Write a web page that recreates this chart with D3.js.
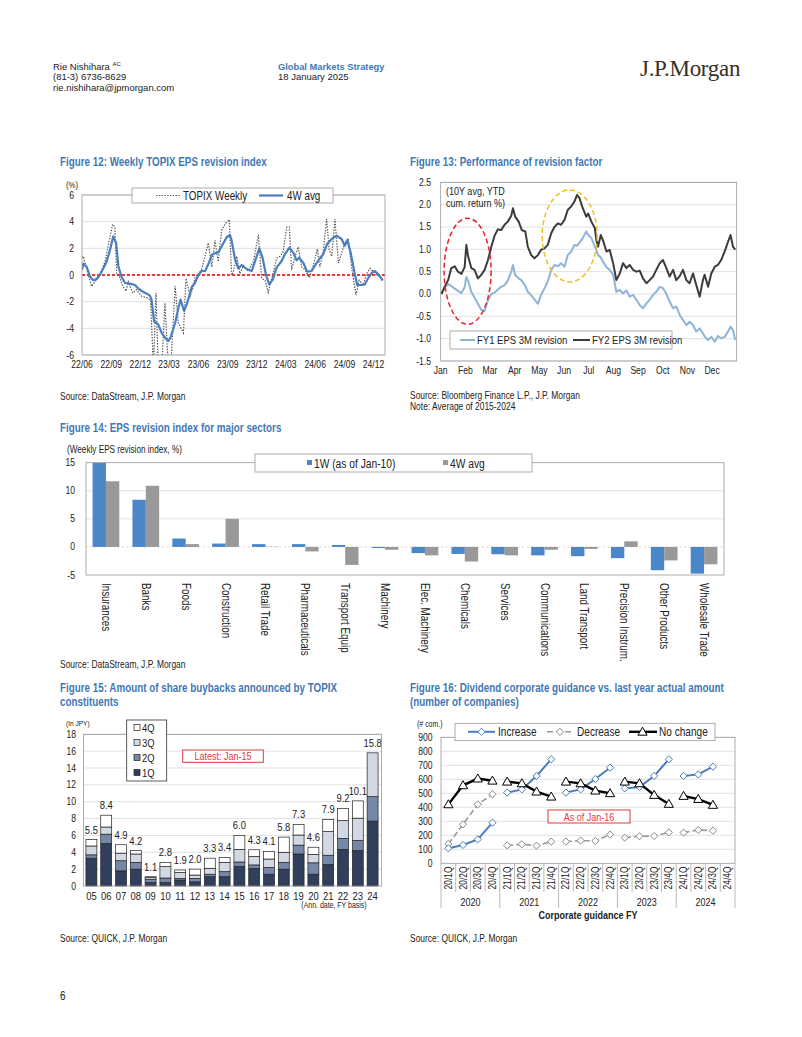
<!DOCTYPE html>
<html><head><meta charset="utf-8">
<script src="https://cdnjs.cloudflare.com/ajax/libs/d3/7.8.5/d3.min.js"></script>
<style>
body{margin:0;background:#fff}
svg{display:block}
</style>
</head><body>
<svg id="c" width="802" height="1037"></svg>
<script>
// ---------------- DATA ----------------
// Figure 12 (days since 2022-06-01)
const f12TickLabels = ["22/06","22/09","22/12","23/03","23/06","23/09","23/12","24/03","24/06","24/09","24/12"];
const f12YTicks = [-6,-4,-2,0,2,4,6];
const f12AvgDays = [0,4,15,25,35,46,56,67,77,88,
  98,107,114,124,135,150,166,176,187,203,
  213,218,226,239,250,260,271,278,292,302,
  309,320,330,344,354,365,375,386,396,407,
  417,427,438,454,464,469,480,490,501,516,
  532,542,556,566,577,587,598,610,626,636,
  650,662,673,681,694,706,720,730,744,756,
  769,783,798,814,824,832,842,856,863,877,
  887,897,908,918,929,943];
const f12AvgVals = [0.4,0.85,0.6,-0.1,-0.4,-0.3,0.0,0.5,1.0,1.9,
  2.9,2.4,0.65,-0.15,-0.6,-0.65,-0.75,-1.0,-1.2,-1.4,
  -1.55,-1.85,-3.5,-3.7,-4.35,-4.7,-4.95,-4.65,-3.6,-2.5,
  -1.85,-2.7,-2.1,-0.9,-0.6,0.0,0.3,0.3,0.8,1.5,
  1.65,1.7,2.15,2.85,3.0,2.6,1.15,0.5,0.75,0.45,
  0.3,1.0,2.0,1.3,0.0,-0.7,-0.35,0.55,1.05,1.55,
  2.05,1.7,1.1,1.3,0.9,0.25,0.3,0.7,1.2,1.55,
  2.35,2.7,2.95,2.7,2.2,2.6,1.7,0.0,-0.75,-0.75,
  -0.7,-0.25,0.15,0.3,0.05,-0.4];
const f12WkDays = [0,4,15,30,41,56,72,86,96,103,
  109,117,128,138,145,159,171,187,203,215,
  224,232,239,250,260,271,278,292,302,318,
  326,339,349,354,365,375,396,407,417,427,
  438,451,462,469,474,485,495,506,521,537,
  553,563,574,584,598,610,621,631,642,650,
  657,668,678,689,699,713,725,738,746,756,
  767,775,783,793,804,814,824,835,845,859,
  869,882,892,903,913,924,934,943];
const f12WkVals = [1.3,1.4,0.4,-0.85,-0.5,0.0,1.0,2.65,3.8,3.6,
  0.0,-0.1,-0.85,-1.2,-0.5,-1.35,-1.1,-1.6,-1.7,-1.9,
  -7.0,-1.35,-7.0,-7.0,-2.1,-7.0,-7.0,-0.85,-3.6,-4.35,
  -0.25,-1.6,-0.9,-0.2,0.1,0.4,2.4,0.6,2.6,1.0,
  3.4,3.9,4.15,0.0,0.2,1.4,0.1,0.7,0.3,1.0,
  3.0,-0.25,-0.4,-1.3,0.0,1.25,1.4,1.75,3.6,3.6,
  0.4,1.4,2.1,0.6,0.4,-0.2,0.7,1.95,0.6,1.75,
  4.2,1.9,1.4,4.2,0.9,1.65,2.4,2.75,0.65,-1.5,
  -0.4,-0.75,0.1,0.5,0.25,0.0,-0.1,-0.5];

// Figure 13 (x = position in months from Jan start)
const f13MonthLabels = ["Jan","Feb","Mar","Apr","May","Jun","Jul","Aug","Sep","Oct","Nov","Dec"];
const f13YTicks = [-1.5,-1.0,-0.5,0.0,0.5,1.0,1.5,2.0,2.5];
const f13Pos = [0.03,0.16,0.30,0.43,0.57,0.70,0.84,0.97,1.04,1.11,
  1.24,1.37,1.51,1.65,1.78,1.91,2.05,2.18,2.32,2.45,
  2.59,2.72,2.86,2.93,3.02,3.16,3.29,3.43,3.53,3.67,
  3.80,3.94,4.07,4.21,4.34,4.48,4.61,4.75,4.88,5.02,
  5.15,5.29,5.42,5.53,5.63,5.76,5.90,5.98,6.11,6.25,
  6.31,6.38,6.49,6.58,6.72,6.85,6.99,7.12,7.26,7.39,
  7.53,7.66,7.80,7.93,8.07,8.20,8.34,8.47,8.61,8.74,
  8.88,9.01,9.15,9.28,9.42,9.55,9.69,9.82,9.96,10.09,
  10.23,10.36,10.50,10.63,10.70,10.84,10.97,11.11,11.24,11.37,
  11.51,11.65,11.75,11.85,11.94];
const f13FY2 = [0.00,0.16,0.31,0.58,0.62,0.50,0.45,0.60,1.10,0.85,
  0.58,0.54,0.35,0.43,0.54,0.75,1.05,1.30,1.45,1.43,
  1.55,1.62,1.75,1.92,1.73,1.62,1.43,1.40,1.06,0.87,
  0.80,0.87,0.99,1.02,1.10,1.36,1.50,1.58,1.55,1.66,
  1.88,1.96,2.07,2.22,2.14,1.92,1.73,1.80,1.62,1.47,
  1.20,1.06,1.32,1.20,0.95,0.99,0.69,0.31,0.46,0.69,
  0.58,0.65,0.54,0.50,0.52,0.35,0.24,0.31,0.39,0.54,
  0.69,0.76,0.58,0.39,0.54,0.31,0.40,0.54,0.31,0.24,
  0.46,0.20,-0.06,0.31,0.43,0.16,0.46,0.61,0.65,0.76,
  0.95,1.17,1.32,1.06,0.99];
const f13FY1 = [0.00,0.15,0.22,0.18,0.12,0.07,0.02,0.15,0.38,0.30,
  0.05,-0.08,-0.22,-0.36,-0.38,-0.15,0.00,0.03,0.10,0.16,
  0.20,0.30,0.50,0.65,0.42,0.35,0.30,0.18,0.05,-0.03,
  -0.12,-0.22,-0.02,0.13,0.28,0.54,0.65,0.62,0.69,0.61,
  0.87,0.95,1.10,1.08,1.15,1.25,1.40,1.32,1.25,1.06,
  0.98,0.87,0.82,0.72,0.60,0.54,0.43,0.05,0.09,0.01,
  0.08,-0.06,-0.02,-0.13,-0.25,-0.32,-0.21,-0.13,-0.02,0.05,
  0.16,0.13,0.00,-0.17,-0.32,-0.28,-0.47,-0.58,-0.70,-0.62,
  -0.70,-0.84,-0.77,-0.88,-0.95,-1.03,-0.96,-1.07,-0.94,-0.99,
  -0.96,-0.84,-0.73,-0.81,-1.03];

// Figure 14
const f14Sectors = ["Insurances","Banks","Foods","Construction","Retail Trade","Pharmaceuticals","Transport Equip","Machinery","Elec. Machinery","Chemicals","Services","Communications","Land Transport","Precision Instrum.","Other Products","Wholesale Trade"];
const f14W1 = [15,8.4,1.5,0.6,0.5,0.5,0.35,-0.2,-1.1,-1.25,-1.3,-1.5,-1.65,-2.0,-4.15,-4.75];
const f14W4 = [11.7,10.9,0.5,5.0,0.05,-0.8,-3.2,-0.5,-1.5,-2.6,-1.5,-0.5,-0.35,1.0,-2.4,-3.1];
const f14YTicks = [-5,0,5,10,15];

// Figure 15 (tn JPY)
const f15Years = ["05","06","07","08","09","10","11","12","13","14","15","16","17","18","19","20","21","22","23","24"];
const f15Q1 = [3.3,5.05,1.8,2.0,0.4,0.4,0.7,0.5,1.1,1.1,2.3,2.1,1.4,2.0,3.8,1.4,2.55,4.35,4.2,7.7];
const f15Q2 = [0.4,1.1,1.2,0.8,0.4,0.55,0.2,0.4,0.3,0.6,0.55,0.4,0.8,0.8,1.05,1.35,1.1,1.3,1.2,2.9];
const f15Q3 = [1.05,0.85,0.9,1.0,0.2,1.35,0.7,0.4,0.7,1.1,1.5,1.0,1.0,1.2,1.2,1.0,2.8,2.1,2.65,5.2];
const f15Q4 = [0.75,1.4,1.0,0.4,0.1,0.5,0.3,0.7,1.2,0.6,1.65,0.8,0.9,1.8,1.25,0.85,1.45,1.45,2.05,0];
const f15YTicks = [0,2,4,6,8,10,12,14,16,18];

// Figure 16 (# companies)
const f16Years = ["2020","2021","2022","2023","2024"];
const f16Cats = ["20/1Q","20/2Q","20/3Q","20/4Q","21/1Q","21/2Q","21/3Q","21/4Q","22/1Q","22/2Q","22/3Q","22/4Q","23/1Q","23/2Q","23/3Q","23/4Q","24/1Q","24/2Q","24/3Q","24/4Q"];
const f16Inc = [107,131,171,290, 505,528,624,743, 505,528,602,683, 535,545,624,743, 624,635,690,null];
const f16Dec = [138,278,421,493, 128,136,126,155, 155,162,160,205, 183,193,195,221, 219,238,233,null];
const f16NoCh = [421,557,605,590, 583,571,512,476, 583,571,519,500, 583,571,488,424, 481,459,417,null];
const f16YTicks = [0,100,200,300,400,500,600,700,800,900];

// ---------------- DRAW ----------------
const svg = d3.select("#c");
svg.append("rect").attr("width",802).attr("height",1037).attr("fill","#fff");
const TITLE = "#3f78b5", GRID = "#d9d9d9", BORDER = "#9a9a9a", TXT = "#222";
const FONT = "'Liberation Sans',Arial,sans-serif";
const SX = 0.82; // emulate a narrow sans face
function txt(g,x,y,s,o={}){
  const rot = o.rotate ? ` rotate(${o.rotate})` : "";
  const sx = o.sx || SX;
  return g.append("text").attr("transform",`translate(${x},${y})${rot} scale(${sx},1)`).text(s)
    .style("font-family",FONT)
    .attr("font-size",o.size||10).attr("fill",o.fill||TXT)
    .attr("text-anchor",o.anchor||"start").attr("font-weight",o.weight||"normal");
}

// Header
const h1 = txt(svg,53,69.5,"Rie Nishihara ",{size:9.3,sx:1.02});
h1.append("tspan").attr("font-size",6).attr("dy",-3.5).text("AC");
txt(svg,53,80,"(81-3) 6736-8629",{size:9.3,sx:1.02});
txt(svg,53,90.5,"rie.nishihara@jpmorgan.com",{size:9.3,sx:1.02});
txt(svg,278,69.5,"Global Markets Strategy",{size:9.3,weight:"bold",fill:TITLE,sx:1.0});
txt(svg,278,80,"18 January 2025",{size:9.3,sx:1.02});
svg.append("text").attr("x",640).attr("y",76).text("J.P.Morgan")
  .style("font-family","'Liberation Serif','Times New Roman',serif").attr("font-size",23)
  .attr("fill","#3a2e28").attr("letter-spacing",-0.3);

// Titles & sources
txt(svg,60,166,"Figure 12: Weekly TOPIX EPS revision index",{size:12,weight:"bold",fill:TITLE});
txt(svg,410,166,"Figure 13: Performance of revision factor",{size:12,weight:"bold",fill:TITLE});
txt(svg,60,432,"Figure 14: EPS revision index for major sectors",{size:12,weight:"bold",fill:TITLE});
txt(svg,60,692,"Figure 15: Amount of share buybacks announced by TOPIX",{size:12,weight:"bold",fill:TITLE});
txt(svg,60,706,"constituents",{size:12,weight:"bold",fill:TITLE});
txt(svg,410,692,"Figure 16: Dividend corporate guidance vs. last year actual amount",{size:12,weight:"bold",fill:TITLE});
txt(svg,410,706,"(number of companies)",{size:12,weight:"bold",fill:TITLE});
txt(svg,60,400,"Source: DataStream, J.P. Morgan",{size:10.3});
txt(svg,410,399,"Source: Bloomberg Finance L.P., J.P. Morgan",{size:10.3});
txt(svg,410,410,"Note: Average of 2015-2024",{size:10.3});
txt(svg,60,668,"Source: DataStream, J.P. Morgan",{size:10.3});
txt(svg,60,942,"Source: QUICK, J.P. Morgan",{size:10.3});
txt(svg,410,942,"Source: QUICK, J.P. Morgan",{size:10.3});
txt(svg,60,1000,"6",{size:12});

// ---------- Figure 12 ----------
(function(){
  const g = svg.append("g");
  const L=82,R=385,T=195,B=355;
  const base = new Date(2022,5,1);
  const x = d3.scaleTime().domain([base, d3.timeDay.offset(base,950)]).range([L,R]);
  const y = d3.scaleLinear().domain([-6,6]).range([B,T]);
  g.selectAll(".gl").data(f12YTicks).join("line").attr("x1",L).attr("x2",R)
    .attr("y1",d=>y(d)).attr("y2",d=>y(d)).attr("stroke",GRID).attr("stroke-width",0.8);
  g.append("clipPath").attr("id","cp12").append("rect").attr("x",L).attr("y",T).attr("width",R-L).attr("height",B-T);
  const pc = g.append("g").attr("clip-path","url(#cp12)");
  pc.append("line").attr("x1",L).attr("x2",R).attr("y1",y(0)).attr("y2",y(0))
    .attr("stroke","#e00000").attr("stroke-width",1.4).attr("stroke-dasharray","3,2");
  const wk = f12WkDays.map((d,i)=>[d3.timeDay.offset(base,d), f12WkVals[i]]);
  const av = f12AvgDays.map((d,i)=>[d3.timeDay.offset(base,d), f12AvgVals[i]]);
  const line = d3.line().x(d=>x(d[0])).y(d=>y(d[1]));
  pc.append("path").attr("d",line(wk)).attr("fill","none").attr("stroke","#555")
    .attr("stroke-width",1.2).attr("stroke-dasharray","1.4,1.4");
  pc.append("path").attr("d",line(av)).attr("fill","none").attr("stroke","#4a7ebf")
    .attr("stroke-width",2.2).attr("stroke-linejoin","round");
  g.append("rect").attr("x",L).attr("y",T).attr("width",R-L).attr("height",B-T)
    .attr("fill","none").attr("stroke",BORDER).attr("stroke-width",0.8);
  f12YTicks.forEach(v=>txt(g,74,y(v)+3.5,String(v),{size:10.5,anchor:"end"}));
  const pt = d3.timeParse("%y/%m");
  f12TickLabels.forEach(s=>txt(g,x(pt(s)),368,s,{size:10.5,anchor:"middle"}));
  txt(g,66,188,"(%)",{size:9.5});
  // legend
  g.append("rect").attr("x",132).attr("y",188).attr("width",201).attr("height",15)
    .attr("fill","#fff").attr("stroke",BORDER).attr("stroke-width",0.8);
  g.append("line").attr("x1",156).attr("x2",180).attr("y1",195.5).attr("y2",195.5)
    .attr("stroke","#555").attr("stroke-width",1.2).attr("stroke-dasharray","1.4,1.4");
  txt(g,183,199.5,"TOPIX Weekly",{size:12});
  g.append("line").attr("x1",259).attr("x2",283).attr("y1",195.5).attr("y2",195.5)
    .attr("stroke","#4a7ebf").attr("stroke-width",2.2);
  txt(g,287,199.5,"4W avg",{size:12});
})();

// ---------- Figure 13 ----------
(function(){
  const g = svg.append("g");
  const L=440.7,R=736.7,T=182.3,B=361;
  const x = d3.scaleLinear().domain([0,12]).range([L,R]);
  const y = d3.scaleLinear().domain([-1.5,2.5]).range([B,T]);
  g.selectAll(".gl").data(f13YTicks).join("line").attr("x1",L).attr("x2",R)
    .attr("y1",d=>y(d)).attr("y2",d=>y(d)).attr("stroke",GRID).attr("stroke-width",0.8);
  const line = d3.line().x(d=>x(d[0])).y(d=>y(d[1]));
  g.append("path").attr("d",line(f13Pos.map((p,i)=>[p,f13FY1[i]]))).attr("fill","none")
    .attr("stroke","#8fb4d8").attr("stroke-width",2).attr("stroke-linejoin","round");
  g.append("path").attr("d",line(f13Pos.map((p,i)=>[p,f13FY2[i]]))).attr("fill","none")
    .attr("stroke","#3c3c3c").attr("stroke-width",2).attr("stroke-linejoin","round");
  g.append("ellipse").attr("cx",x(1.09)).attr("cy",y(0.51)).attr("rx",23.5).attr("ry",53)
    .attr("fill","none").attr("stroke","#e8202a").attr("stroke-width",1.5).attr("stroke-dasharray","5,3");
  g.append("ellipse").attr("cx",x(5.23)).attr("cy",y(1.30)).attr("rx",27.5).attr("ry",46)
    .attr("fill","none").attr("stroke","#f0c020").attr("stroke-width",1.5).attr("stroke-dasharray","5,3");
  g.append("rect").attr("x",L).attr("y",T).attr("width",R-L).attr("height",B-T)
    .attr("fill","none").attr("stroke",BORDER).attr("stroke-width",0.8);
  f13YTicks.forEach(v=>txt(g,431,y(v)+3.5,v.toFixed(1),{size:10.5,anchor:"end"}));
  f13MonthLabels.forEach((s,i)=>txt(g,x(i),374,s,{size:10.5,anchor:"middle"}));
  txt(g,446,195,"(10Y avg, YTD",{size:11});
  txt(g,446,207,"cum. return %)",{size:11});
  g.append("rect").attr("x",450).attr("y",331).attr("width",222).attr("height",18)
    .attr("fill","#fff").attr("stroke",BORDER).attr("stroke-width",0.8);
  g.append("line").attr("x1",460).attr("x2",475).attr("y1",340).attr("y2",340).attr("stroke","#8fb4d8").attr("stroke-width",2);
  txt(g,477,344,"FY1 EPS 3M revision",{size:11.6});
  g.append("line").attr("x1",573).attr("x2",590).attr("y1",340).attr("y2",340).attr("stroke","#3c3c3c").attr("stroke-width",2);
  txt(g,592,344,"FY2 EPS 3M revision",{size:11.6});
})();

// ---------- Figure 14 ----------
(function(){
  const g = svg.append("g");
  const L=86,R=724,T=462.7,B=575;
  const x = d3.scaleBand().domain(f14Sectors).range([L,R]).paddingInner(0.33).paddingOuter(0.165);
  const y = d3.scaleLinear().domain([-5,15]).range([B,T]);
  [5,10].forEach(v=>g.append("line").attr("x1",L).attr("x2",R).attr("y1",y(v)).attr("y2",y(v)).attr("stroke",GRID).attr("stroke-width",0.8));
  g.append("line").attr("x1",L).attr("x2",R).attr("y1",y(0)).attr("y2",y(0))
    .attr("stroke","#e8c4b4").attr("stroke-width",1).attr("stroke-dasharray","1.5,3");
  const bw = x.bandwidth()/2;
  g.selectAll(".b1").data(f14Sectors).join("rect")
    .attr("x",d=>x(d)).attr("width",bw)
    .attr("y",(d,i)=>y(Math.max(0,f14W1[i]))).attr("height",(d,i)=>Math.abs(y(f14W1[i])-y(0)))
    .attr("fill","#4a86c8");
  g.selectAll(".b4").data(f14Sectors).join("rect")
    .attr("x",d=>x(d)+bw).attr("width",bw)
    .attr("y",(d,i)=>y(Math.max(0,f14W4[i]))).attr("height",(d,i)=>Math.abs(y(f14W4[i])-y(0)))
    .attr("fill","#999");
  g.append("rect").attr("x",L).attr("y",T).attr("width",R-L).attr("height",B-T)
    .attr("fill","none").attr("stroke",BORDER).attr("stroke-width",0.8);
  f14YTicks.forEach(v=>txt(g,75,y(v)+3.5,String(v),{size:10.5,anchor:"end"}));
  f14Sectors.forEach(s=>{
    const cx = x(s)+x.bandwidth()/2;
    txt(g,cx-4,583,s,{size:12,rotate:90});
  });
  txt(g,67,453,"(Weekly EPS revision index, %)",{size:10});
  g.append("rect").attr("x",255).attr("y",454).attr("width",277).attr("height",18)
    .attr("fill","#fff").attr("stroke",BORDER).attr("stroke-width",0.8);
  g.append("rect").attr("x",307).attr("y",460).attr("width",5).attr("height",5).attr("fill","#4a86c8");
  txt(g,314,467.5,"1W (as of Jan-10)",{size:12.5});
  g.append("rect").attr("x",443).attr("y",460).attr("width",5).attr("height",5).attr("fill","#999");
  txt(g,450,467.5,"4W avg",{size:12.5});
})();

// ---------- Figure 15 ----------
(function(){
  const g = svg.append("g");
  const L=83.5,R=381.5,T=734.3,B=886;
  const x = d3.scaleBand().domain(f15Years).range([L+0.5,R-1.5]).paddingInner(0.26).paddingOuter(0.13);
  const y = d3.scaleLinear().domain([0,18]).range([B,T]);
  f15YTicks.forEach(v=>{ if(v>0) g.append("line").attr("x1",L).attr("x2",R).attr("y1",y(v)).attr("y2",y(v)).attr("stroke",GRID).attr("stroke-width",0.8); });
  const rows = f15Years.map((yr,i)=>({yr,q1:f15Q1[i],q2:f15Q2[i],q3:f15Q3[i],q4:f15Q4[i]}));
  const keys = ["q1","q2","q3","q4"];
  const cols = {q1:"#2f3f5c",q2:"#7688a8",q3:"#d3d9e4",q4:"#ffffff"};
  const st = d3.stack().keys(keys)(rows);
  st.forEach(s=>{
    g.selectAll(".s"+s.key).data(s).join("rect")
      .attr("x",d=>x(d.data.yr)).attr("width",x.bandwidth())
      .attr("y",d=>y(d[1])).attr("height",d=>Math.max(0,y(d[0])-y(d[1])))
      .attr("fill",cols[s.key]).attr("stroke",d=>(d[1]-d[0])>0?"#222":"none").attr("stroke-width",0.7);
  });
  rows.forEach(r=>{
    const tot = r.q1+r.q2+r.q3+r.q4;
    txt(g,x(r.yr)+x.bandwidth()/2,y(tot)-6,d3.format(".1f")(tot),{size:11.5,anchor:"middle"});
  });
  g.append("rect").attr("x",L).attr("y",T).attr("width",R-L).attr("height",B-T)
    .attr("fill","none").attr("stroke",BORDER).attr("stroke-width",0.8);
  f15YTicks.forEach(v=>txt(g,76,y(v)+3.5,String(v),{size:10.5,anchor:"end"}));
  f15Years.forEach(s=>txt(g,x(s)+x.bandwidth()/2,900,s,{size:11.5,anchor:"middle"}));
  txt(g,334,908,"(Ann. date, FY basis)",{size:8.5,anchor:"middle"});
  txt(g,66,726,"(In JPY)",{size:8});
  // legend
  g.append("rect").attr("x",126.7).attr("y",720).attr("width",40).attr("height",61)
    .attr("fill","#fff").attr("stroke","#333").attr("stroke-width",0.8);
  const leg = [["4Q","q4",728],["3Q","q3",743],["2Q","q2",758],["1Q","q1",773]];
  leg.forEach(([lab,k,cy])=>{
    g.append("rect").attr("x",134).attr("y",cy-3.5).attr("width",6).attr("height",6)
      .attr("fill",cols[k]).attr("stroke","#222").attr("stroke-width",0.7);
    txt(g,142,cy+4,lab,{size:11.5});
  });
  g.append("rect").attr("x",182.7).attr("y",750).attr("width",80.6).attr("height",12.3)
    .attr("fill","#fff").attr("stroke","#e03a3a").attr("stroke-width",1);
  txt(g,223,760,"Latest: Jan-15",{size:11,anchor:"middle",fill:"#e03a3a"});
})();

// ---------- Figure 16 ----------
(function(){
  const g = svg.append("g");
  const L=441,R=735,T=737.3,B=863.3;
  const x = d3.scaleBand().domain(f16Cats).range([L,R]);
  const y = d3.scaleLinear().domain([0,900]).range([B,T]);
  f16YTicks.forEach(v=>{ if(v>0) g.append("line").attr("x1",L).attr("x2",R).attr("y1",y(v)).attr("y2",y(v)).attr("stroke",GRID).attr("stroke-width",0.8); });
  const cx = c=>x(c)+x.bandwidth()/2;
  const diamond = "M0,-3.6L3.6,0L0,3.6L-3.6,0Z";
  const tri = "M0,-4.6L4.6,3.4L-4.6,3.4Z";
  const series = [
    {vals:f16Dec, color:"#999", w:1.6, dash:"6,3", mark:diamond, mstroke:"#888"},
    {vals:f16Inc, color:"#4a7ebb", w:2, dash:null, mark:diamond, mstroke:"#4a7ebb"},
    {vals:f16NoCh, color:"#000", w:2.4, dash:null, mark:tri, mstroke:"#000"}
  ];
  const line = d3.line().defined(d=>d.v!=null).x(d=>cx(d.c)).y(d=>y(d.v));
  series.forEach(s=>{
    f16Years.forEach((yr,yi)=>{
      const pts = f16Cats.slice(yi*4,yi*4+4).map((c,j)=>({c,v:s.vals[yi*4+j]}));
      const p = g.append("path").attr("d",line(pts)).attr("fill","none")
        .attr("stroke",s.color).attr("stroke-width",s.w);
      if(s.dash) p.attr("stroke-dasharray",s.dash);
    });
  });
  series.forEach(s=>{
    f16Cats.forEach((c,i)=>{
      if(s.vals[i]==null) return;
      g.append("path").attr("d",s.mark).attr("transform",`translate(${cx(c)},${y(s.vals[i])})`)
        .attr("fill","#fff").attr("stroke",s.mstroke).attr("stroke-width",1);
    });
  });
  g.append("rect").attr("x",L).attr("y",T).attr("width",R-L).attr("height",B-T)
    .attr("fill","none").attr("stroke",BORDER).attr("stroke-width",0.8);
  f16YTicks.forEach(v=>txt(g,432.5,y(v)+3.5,String(v),{size:10.5,anchor:"end"}));
  txt(g,417,727,"(# com.)",{size:8.5});
  // category axis table
  f16Cats.forEach((c,i)=>{
    const xl = x(c);
    const long = i%4===0;
    g.append("line").attr("x1",xl).attr("x2",xl).attr("y1",B).attr("y2",long?908:892).attr("stroke","#aaa").attr("stroke-width",0.8);
    txt(g,cx(c)+3.5,878,c,{size:10.3,anchor:"middle",rotate:-90});
  });
  g.append("line").attr("x1",R).attr("x2",R).attr("y1",B).attr("y2",908).attr("stroke","#aaa").attr("stroke-width",0.8);
  f16Years.forEach((yr,yi)=>{
    const a = x(f16Cats[yi*4]), b = x(f16Cats[yi*4+3])+x.bandwidth();
    txt(g,(a+b)/2,905.5,yr,{size:11,anchor:"middle"});
  });
  txt(g,588,919,"Corporate guidance FY",{size:11,anchor:"middle",weight:"bold"});
  // legend
  g.append("rect").attr("x",455).attr("y",723.3).attr("width",260).attr("height",17.4)
    .attr("fill","#fff").attr("stroke",BORDER).attr("stroke-width",0.8);
  const ly = 731.8;
  g.append("line").attr("x1",468).attr("x2",495).attr("y1",ly).attr("y2",ly).attr("stroke","#4a7ebb").attr("stroke-width",2);
  g.append("path").attr("d",diamond).attr("transform",`translate(481.5,${ly})`).attr("fill","#fff").attr("stroke","#4a7ebb");
  txt(g,498,ly+4.5,"Increase",{size:12.3});
  g.append("line").attr("x1",547).attr("x2",573).attr("y1",ly).attr("y2",ly).attr("stroke","#999").attr("stroke-width",1.6).attr("stroke-dasharray","6,3");
  g.append("path").attr("d",diamond).attr("transform",`translate(560,${ly})`).attr("fill","#fff").attr("stroke","#888");
  txt(g,577,ly+4.5,"Decrease",{size:12.3});
  g.append("line").attr("x1",629).attr("x2",657).attr("y1",ly).attr("y2",ly).attr("stroke","#000").attr("stroke-width",2.4);
  g.append("path").attr("d",tri).attr("transform",`translate(642.5,${ly})`).attr("fill","#fff").attr("stroke","#000");
  txt(g,659,ly+4.5,"No change",{size:12.3});
  g.append("rect").attr("x",548).attr("y",810).attr("width",82).attr("height",13)
    .attr("fill","#fff").attr("stroke","#e03a3a").attr("stroke-width",1);
  txt(g,589,820.5,"As of Jan-16",{size:11,anchor:"middle",fill:"#e03a3a"});
})();
</script>
</body></html>
